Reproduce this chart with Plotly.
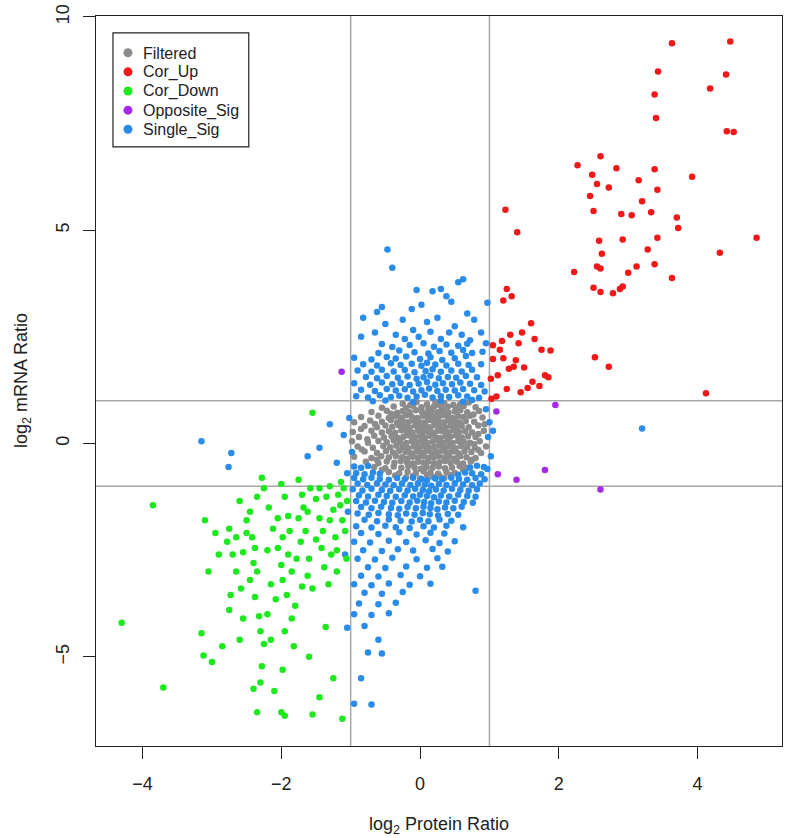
import plotly.graph_objects as go

# ---------------- data (log2 protein ratio, log2 mRNA ratio) ----------------
filtered_pts = [
    (-0.25,0.93),(-0.05,0.97),(0.1,0.92),(0.22,0.98),(0.35,0.94),(0.48,0.9),(0.7,0.96),
    (-0.55,0.84),(-0.38,0.87),(-0.2,0.83),(-0.1,0.88),(0.02,0.85),(0.12,0.82),(0.2,0.87),(0.31,0.84),(0.4,0.86),(0.52,0.83),(0.63,0.88),(0.8,0.85),
    (-0.7,0.74),(-0.48,0.77),(-0.33,0.72),(-0.25,0.76),(-0.15,0.73),(-0.06,0.78),(0.03,0.74),(0.1,0.71),(0.17,0.76),(0.25,0.73),(0.33,0.77),(0.41,0.72),(0.5,0.75),(0.58,0.78),(0.68,0.73),(0.85,0.76),
    (-0.85,0.62),(-0.6,0.65),(-0.45,0.6),(-0.36,0.64),(-0.28,0.61),(-0.2,0.66),(-0.12,0.63),(-0.04,0.6),(0.04,0.65),(0.11,0.62),(0.18,0.64),(0.26,0.61),(0.33,0.66),(0.4,0.63),(0.47,0.6),(0.55,0.64),(0.63,0.62),(0.72,0.65),(0.9,0.61),
    (-0.95,0.5),(-0.72,0.54),(-0.55,0.51),(-0.42,0.55),(-0.33,0.49),(-0.25,0.53),(-0.17,0.5),(-0.09,0.54),(-0.02,0.52),(0.06,0.49),(0.13,0.55),(0.2,0.51),(0.27,0.53),(0.35,0.5),(0.42,0.54),(0.5,0.52),(0.57,0.49),(0.66,0.53),(0.78,0.51),
    (-0.8,0.41),(-0.62,0.38),(-0.5,0.42),(-0.4,0.39),(-0.31,0.43),(-0.23,0.4),(-0.15,0.37),(-0.07,0.42),(0.01,0.39),(0.08,0.41),(0.15,0.38),(0.22,0.43),(0.3,0.4),(0.37,0.37),(0.44,0.42),(0.52,0.39),(0.6,0.41),(0.7,0.38),(0.84,0.42),
    (-0.97,0.27),(-0.7,0.3),(-0.55,0.26),(-0.45,0.29),(-0.36,0.25),(-0.27,0.31),(-0.19,0.28),(-0.11,0.26),(-0.03,0.3),(0.04,0.27),(0.11,0.29),(0.19,0.25),(0.26,0.3),(0.33,0.28),(0.41,0.26),(0.48,0.31),(0.56,0.27),(0.65,0.29),(0.75,0.26),(0.92,0.3),
    (-0.88,0.15),(-0.66,0.18),(-0.52,0.14),(-0.41,0.17),(-0.32,0.13),(-0.24,0.16),(-0.16,0.19),(-0.08,0.15),(0.0,0.17),(0.07,0.14),(0.14,0.18),(0.22,0.15),(0.29,0.13),(0.37,0.17),(0.44,0.16),(0.52,0.19),(0.6,0.14),(0.69,0.17),(0.8,0.15),
    (-0.98,0.05),(-0.75,0.02),(-0.6,0.06),(-0.48,0.03),(-0.38,0.07),(-0.29,0.04),(-0.2,0.01),(-0.12,0.05),(-0.04,0.03),(0.03,0.06),(0.1,0.02),(0.18,0.04),(0.25,0.07),(0.32,0.03),(0.4,0.05),(0.47,0.01),(0.55,0.06),(0.63,0.04),(0.72,0.02),(0.86,0.05),
    (-0.9,-0.07),(-0.68,-0.1),(-0.53,-0.06),(-0.43,-0.09),(-0.34,-0.05),(-0.25,-0.08),(-0.17,-0.11),(-0.09,-0.07),(-0.01,-0.09),(0.06,-0.06),(0.13,-0.1),(0.21,-0.08),(0.28,-0.05),(0.36,-0.09),(0.43,-0.07),(0.51,-0.11),(0.59,-0.06),(0.68,-0.08),(0.79,-0.1),(0.95,-0.07),
    (-0.8,-0.19),(-0.62,-0.22),(-0.49,-0.18),(-0.39,-0.21),(-0.3,-0.17),(-0.21,-0.2),(-0.13,-0.23),(-0.05,-0.19),(0.02,-0.21),(0.09,-0.18),(0.17,-0.22),(0.24,-0.2),(0.32,-0.17),(0.39,-0.21),(0.47,-0.19),(0.55,-0.23),(0.64,-0.18),(0.74,-0.2),(0.88,-0.22),
    (-0.95,-0.31),(-0.7,-0.34),(-0.56,-0.3),(-0.45,-0.33),(-0.35,-0.29),(-0.26,-0.32),(-0.18,-0.35),(-0.1,-0.31),(-0.02,-0.33),(0.05,-0.3),(0.12,-0.34),(0.2,-0.32),(0.27,-0.29),(0.35,-0.33),(0.42,-0.31),(0.5,-0.35),(0.58,-0.3),(0.67,-0.32),(0.8,-0.34),
    (-0.78,-0.43),(-0.6,-0.46),(-0.48,-0.42),(-0.37,-0.45),(-0.28,-0.41),(-0.19,-0.44),(-0.11,-0.47),(-0.03,-0.43),(0.05,-0.45),(0.12,-0.42),(0.2,-0.46),(0.28,-0.44),(0.36,-0.41),(0.44,-0.45),(0.53,-0.43),(0.62,-0.47),(0.73,-0.42),
    (-0.66,-0.55),(-0.5,-0.58),(-0.38,-0.54),(-0.27,-0.57),(-0.17,-0.53),(-0.08,-0.56),(0.01,-0.59),(0.09,-0.55),(0.18,-0.57),(0.27,-0.54),(0.36,-0.58),(0.46,-0.56),(0.57,-0.53),(0.68,-0.57),
    (-0.45,-0.67),(-0.3,-0.7),(-0.18,-0.66),(-0.06,-0.69),(0.05,-0.65),(0.15,-0.68),(0.26,-0.71),(0.38,-0.67),(0.5,-0.69),
    (-0.2,-0.79),(0.0,-0.82),(0.18,-0.78),(0.35,-0.81),
    (-0.14,0.9),(0.28,0.9),(0.58,0.92),(-0.42,0.7),(0.77,0.68),(-0.65,0.46),(0.93,0.45),(-0.85,0.34),(0.84,0.22),
    (-0.76,0.1),(0.78,-0.02),(-0.84,-0.14),(0.84,-0.15),(-0.62,-0.38),(0.75,-0.38),(-0.55,-0.62),(0.62,-0.62),
    (-0.36,-0.75),(-0.1,-0.76),(0.1,-0.74),(0.28,-0.76),(0.44,-0.74),
]

cor_up_pts = [
    (3.63,9.38),(4.47,9.42),(3.43,8.72),(4.41,8.65),(4.18,8.32),(3.38,8.18),(3.40,7.63),(4.42,7.32),(4.52,7.30),
    (2.27,6.52),(2.6,6.73),(2.83,6.45),(3.38,6.43),(3.92,6.25),(3.15,6.17),(2.48,6.3),(2.55,6.08),(2.72,6.0),(3.42,5.95),
    (2.45,5.8),(3.2,5.68),(3.05,5.35),(3.33,5.42),(3.7,5.3),(3.72,5.05),(2.5,5.45),(2.9,5.38),
    (4.85,4.82),(3.42,4.82),(2.92,4.78),(2.58,4.75),(3.28,4.55),(4.32,4.47),(2.62,4.45),(3.63,3.88),(3.12,4.15),
    (2.55,4.15),(2.6,4.1),(3.38,4.2),(2.22,4.02),(3.0,4.0),(2.78,3.52),(2.88,3.62),(2.6,3.55),(2.5,3.65),(2.92,3.68),
    (2.52,2.02),(2.72,1.8),(4.12,1.18),
    (1.23,5.48),(1.4,4.95),(1.25,3.62),(1.32,3.45),(1.2,3.35),(1.6,2.82),(1.47,2.6),(1.3,2.55),(1.18,2.4),(1.65,2.45),
    (1.75,2.2),(1.88,2.18),(1.05,2.3),(1.15,2.2),(1.42,2.35),(1.2,2.0),(1.38,1.95),(1.5,1.78),(1.28,1.75),(1.35,1.8),
    (1.12,1.6),(1.05,1.98),(1.02,1.52),(1.62,1.45),(1.8,1.6),(1.85,1.55),(1.72,1.35),(1.55,1.3),(1.25,1.28),(1.1,1.1),
    (1.03,1.05),(1.45,1.2),
]

cor_down_pts = [
    (-4.3,-4.2),(-3.85,-1.45),(-3.7,-5.72),(-3.15,-4.45),(-3.12,-4.97),(-3.0,-5.12),(-2.85,-4.75),(-3.1,-1.8),(-2.95,-2.1),
    (-2.78,-2.3),(-2.75,-2.0),(-2.7,-2.6),(-2.65,-3.0),(-2.73,-3.55),(-2.75,-3.9),(-2.58,-3.4),(-2.55,-2.55),(-2.5,-1.8),
    (-2.45,-1.6),(-2.42,-2.2),(-2.4,-2.8),(-2.35,-3.0),(-2.38,-3.6),(-2.32,-4.05),(-2.3,-4.4),(-2.25,-4.7),(-2.28,-5.22),
    (-2.3,-5.6),(-2.4,-5.75),(-2.35,-6.3),(-2.0,-6.3),(-1.95,-6.38),(-2.1,-5.8),(-2.15,-4.6),(-2.2,-4.0),(-2.15,-3.3),
    (-2.2,-2.5),(-2.12,-2.0),(-2.18,-1.5),(-2.25,-1.05),(-2.28,-0.8),(-2.0,-0.95),(-1.95,-1.25),(-1.9,-1.7),(-2.05,-1.75),
    (-1.98,-2.2),(-1.9,-2.6),(-1.85,-3.0),(-1.98,-3.2),(-1.92,-3.55),(-1.8,-3.8),(-1.85,-4.1),(-1.95,-4.4),(-1.82,-4.75),
    (-1.98,-5.3),(-1.6,-5.0),(-1.55,-6.35),(-1.75,-0.85),(-1.7,-1.2),(-1.68,-1.5),(-1.72,-2.3),(-1.65,-2.05),(-1.6,-2.7),
    (-1.62,-3.1),(-1.55,-3.4),(-1.58,-1.05),(-1.5,-1.3),(-1.45,-1.75),(-1.4,-2.05),(-1.42,-2.45),(-1.38,-2.9),(-1.32,-3.3),
    (-1.36,-4.3),(-1.3,-1.0),(-1.25,-1.55),(-1.22,-2.2),(-1.2,-2.5),(-1.18,-1.2),(-1.12,-1.8),(-1.1,-1.05),(-1.08,-2.05),
    (-1.05,-1.35),(-1.14,-0.9),(-1.06,-2.7),(-1.12,-6.45),(-1.25,-5.5),(-1.45,-5.95),(-1.55,0.72),
    (-2.6,-1.35),(-2.65,-2.2),(-2.9,-2.6),(-3.05,-3.0),(-2.5,-2.1),(-2.45,-3.2),(-2.55,-4.1),(-2.6,-4.6),(-2.05,-2.45),
    (-2.0,-2.85),(-2.08,-3.65),(-1.75,-1.75),(-1.78,-2.7),(-1.7,-3.35),(-1.45,-1.05),(-1.5,-2.25),(-1.3,-1.8),(-1.28,-2.6),
    (-1.2,-3.0),(-1.35,-1.25),(-1.15,-1.45),(-2.35,-1.25),(-2.38,-2.45),(-1.88,-2.05),(-1.62,-1.6),
]

opposite_pts = [
    (-1.13,1.68),(1.1,0.75),(1.12,-0.72),(1.39,-0.85),(1.95,0.9),(1.8,-0.62),(2.6,-1.08),
]

single_pts = [
    (-0.47,4.55),(-0.4,4.12),(0.62,3.85),(0.55,3.78),(0.3,3.62),(0.18,3.57),(-0.05,3.6),(0.97,3.3),(0.38,3.45),(-0.55,3.2),
    (-0.62,3.08),(-0.12,3.15),(0.02,3.25),(0.45,3.32),(0.68,3.05),(-0.82,2.95),(-0.25,2.9),(-0.5,2.8),(0.1,2.85),(0.25,2.95),
    (0.5,2.75),(0.78,2.9),(0.88,2.6),(0.6,2.55),(0.42,2.6),(0.15,2.62),(-0.1,2.66),(-0.35,2.55),(-0.65,2.6),(-0.85,2.5),
    (0.95,2.35),(0.72,2.42),(0.3,2.45),(-0.02,2.5),(-0.22,2.45),
    (-0.55,2.33),(-0.4,2.26),(-0.15,2.31),(0.05,2.35),(0.2,2.27),(0.38,2.32),(0.55,2.29),(0.68,2.34),
    (-0.6,2.12),(-0.3,2.18),(-0.08,2.14),(0.12,2.11),(0.28,2.17),(0.45,2.13),(0.62,2.19),(0.75,2.12),(0.9,2.15),
    (-0.95,2.01),(-0.7,1.97),(-0.48,2.03),(-0.35,1.99),(-0.2,2.04),(0.0,1.98),(0.15,2.02),(0.32,1.96),(0.5,2.0),(0.66,2.05),
    (-0.82,1.86),(-0.62,1.83),(-0.42,1.88),(-0.28,1.84),(-0.12,1.87),(0.02,1.82),(0.1,1.89),(0.22,1.85),(0.38,1.83),(0.55,1.87),(0.7,1.84),(0.88,1.86),
    (-0.9,1.71),(-0.7,1.68),(-0.55,1.73),(-0.38,1.69),(-0.22,1.72),(-0.08,1.67),(0.08,1.7),(0.18,1.74),(0.3,1.68),(0.45,1.71),(0.6,1.69),(0.75,1.73),
    (-0.78,1.56),(-0.62,1.53),(-0.48,1.58),(-0.32,1.54),(-0.18,1.57),(-0.05,1.52),(0.05,1.55),(0.15,1.59),(0.27,1.53),(0.4,1.56),(0.52,1.54),(0.66,1.58),(0.82,1.55),
    (-0.95,1.41),(-0.72,1.38),(-0.55,1.43),(-0.4,1.39),(-0.28,1.42),(-0.15,1.37),(-0.02,1.4),(0.1,1.44),(0.22,1.38),(0.33,1.41),(0.46,1.39),(0.58,1.43),(0.72,1.4),(0.88,1.37),
    (-0.85,1.26),(-0.65,1.23),(-0.48,1.28),(-0.35,1.24),(-0.22,1.27),(-0.1,1.22),(0.02,1.25),(0.13,1.29),(0.25,1.23),(0.37,1.26),(0.5,1.24),(0.62,1.28),(0.78,1.25),(0.93,1.22),
    (-0.92,1.11),(-0.75,1.08),(-0.58,1.13),(-0.42,1.09),(-0.3,1.12),(-0.18,1.07),(-0.05,1.1),(0.07,1.14),(0.18,1.08),(0.3,1.11),(0.42,1.09),(0.55,1.13),(0.68,1.1),(0.85,1.07),
    (-0.68,0.99),(-0.5,1.01),(-0.1,0.97),(0.3,1.0),(0.62,0.98),(0.75,1.02),
    (-1.02,0.6),(-1.1,0.2),(-0.98,-0.2),(-1.2,-0.45),(-1.05,-0.7),(-1.3,0.45),(-1.45,-0.1),(-1.62,-0.3),(0.95,0.8),(1.0,0.5),
    (0.98,0.15),(1.02,-0.3),(0.97,-0.6),(1.05,0.3),(-3.15,0.05),(-2.72,-0.22),(-2.76,-0.55),(3.2,0.35),
    (-0.95,-0.54),(-0.85,-0.57),(-0.75,-0.53),(0.72,-0.56),(0.82,-0.52),(0.92,-0.55),
    (-0.92,-0.69),(-0.8,-0.72),(-0.68,-0.68),(-0.58,-0.71),(0.55,-0.73),(0.65,-0.68),(0.75,-0.7),(0.88,-0.72),
    (-0.95,-0.81),(-0.82,-0.84),(-0.7,-0.8),(-0.58,-0.83),(-0.45,-0.85),(-0.33,-0.81),(-0.22,-0.84),(-0.1,-0.8),(0.02,-0.83),
    (0.1,-0.86),(0.22,-0.82),(0.32,-0.84),(0.45,-0.8),(0.56,-0.83),(0.68,-0.85),(0.8,-0.81),(0.93,-0.84),
    (-0.9,-0.94),(-0.76,-0.97),(-0.62,-0.93),(-0.5,-0.96),(-0.38,-0.98),(-0.26,-0.94),(-0.14,-0.97),(-0.03,-0.93),
    (0.07,-0.96),(0.16,-0.99),(0.27,-0.95),(0.38,-0.97),(0.5,-0.93),(0.62,-0.96),(0.75,-0.98),(0.86,-0.94),
    (-0.97,-1.07),(-0.83,-1.1),(-0.7,-1.06),(-0.55,-1.09),(-0.43,-1.11),(-0.3,-1.07),(-0.18,-1.1),(-0.07,-1.06),
    (0.04,-1.09),(0.13,-1.12),(0.23,-1.08),(0.34,-1.1),(0.46,-1.06),(0.58,-1.09),(0.7,-1.11),(0.82,-1.07),
    (-0.88,-1.21),(-0.75,-1.24),(-0.6,-1.2),(-0.48,-1.23),(-0.35,-1.25),(-0.22,-1.21),(-0.1,-1.24),(0.0,-1.2),
    (0.1,-1.23),(0.2,-1.26),(0.3,-1.22),(0.42,-1.24),(0.55,-1.2),(0.68,-1.23),(0.8,-1.25),
    (-0.92,-1.35),(-0.78,-1.38),(-0.65,-1.34),(-0.52,-1.37),(-0.4,-1.39),(-0.27,-1.35),(-0.15,-1.38),(-0.04,-1.34),
    (0.06,-1.37),(0.16,-1.4),(0.27,-1.36),(0.38,-1.38),(0.5,-1.34),(0.63,-1.37),(0.76,-1.39),
    (-0.85,-1.49),(-0.7,-1.52),(-0.56,-1.48),(-0.42,-1.51),(-0.3,-1.53),(-0.18,-1.49),(-0.06,-1.52),(0.05,-1.48),
    (0.15,-1.51),(0.25,-1.54),(0.36,-1.5),(0.48,-1.52),(0.6,-1.48),
    (-0.9,-1.64),(-0.74,-1.67),(-0.6,-1.63),(-0.45,-1.66),(-0.32,-1.68),(-0.2,-1.64),(-0.08,-1.67),(0.04,-1.63),
    (0.14,-1.66),(0.26,-1.69),(0.4,-1.65),(0.55,-1.67),
    (-0.8,-1.79),(-0.62,-1.82),(-0.45,-1.78),(-0.28,-1.81),(-0.12,-1.83),(0.0,-1.79),(0.12,-1.82),(0.28,-1.78),(0.45,-1.81),
    (-0.92,-1.94),(-0.7,-1.97),(-0.5,-1.93),(-0.35,-1.96),(-0.15,-1.98),(0.05,-1.94),(0.2,-1.97),(0.38,-1.93),(0.62,-1.96),
    (-0.85,-2.1),(-0.6,-2.12),(-0.3,-2.08),(-0.05,-2.13),(0.15,-2.09),(0.35,-2.11),
    (-0.95,-2.3),(-0.72,-2.32),(-0.45,-2.28),(-0.2,-2.31),(0.08,-2.27),(0.28,-2.33),(0.5,-2.29),
    (-0.82,-2.5),(-0.55,-2.52),(-0.32,-2.48),(-0.1,-2.51),(0.18,-2.47),(0.4,-2.53),
    (-0.9,-2.7),(-0.65,-2.72),(-0.4,-2.68),(-0.05,-2.71),(0.25,-2.69),
    (-0.75,-2.9),(-0.5,-2.92),(-0.2,-2.88),(0.1,-2.91),(0.32,-2.89),
    (-0.85,-3.1),(-0.6,-3.12),(-0.28,-3.08),(0.0,-3.11),
    (-0.95,-3.3),(-0.7,-3.32),(-0.45,-3.28),(-0.15,-3.31),(0.15,-3.29),
    (-0.8,-3.5),(-0.55,-3.52),(-0.25,-3.48),(0.8,-3.45),
    (-0.88,-3.75),(-0.6,-3.77),(-0.35,-3.73),
    (-0.95,-4.0),(-0.7,-4.02),(-0.45,-3.98),
    (-1.05,-4.32),(-0.8,-4.28),(-0.6,-4.6),(-0.75,-4.9),(-0.55,-4.92),(-0.85,-5.5),(-0.95,-6.1),(-0.7,-6.12),
    (-1.04,-1.6),(-1.08,-2.6),
]

series_names = ["Filtered", "Cor_Up", "Cor_Down", "Opposite_Sig", "Single_Sig"]
series_colors = ["#8c8c8c", "#f01818", "#1ee81e", "#a628e8", "#2a8ce8"]
series_points = [filtered_pts, cor_up_pts, cor_down_pts, opposite_pts, single_pts]
draw_order = [0, 4, 1, 2, 3]

x_ticks = [-4, -2, 0, 2, 4]
y_ticks = [-5, 0, 5, 10]
threshold_lines = [-1, 1]

FONT = "Liberation Sans, Arial, Helvetica, sans-serif"
INK = "#222222"

# ---- layout geometry (page body margin removed by post_script) ----
FIG_W, FIG_H = 787, 838
M_L, M_R, M_T, M_B = 96, 4, 10, 92
PW = FIG_W - M_L - M_R
PH = FIG_H - M_T - M_B


def px_x(sx):
    return (sx - M_L) / PW


def px_y(sy):
    return 1 - (sy - M_T) / PH


fig = go.Figure()
for i in draw_order:
    pts = series_points[i]
    fig.add_trace(go.Scatter(
        x=[p[0] for p in pts], y=[p[1] for p in pts], mode="markers",
        marker=dict(size=6.5, color=series_colors[i], line=dict(width=0)),
        name=series_names[i], showlegend=False, hoverinfo="x+y",
    ))

for v in threshold_lines:
    fig.add_shape(type="line", xref="x", yref="paper", x0=v, x1=v, y0=0, y1=1,
                  line=dict(color="#a8a8a8", width=1.5), layer="below")
    fig.add_shape(type="line", xref="paper", yref="y", x0=0, x1=1, y0=v, y1=v,
                  line=dict(color="#a8a8a8", width=1.5), layer="below")

# ---- legend box drawn like R's legend() ----
fig.add_shape(type="rect", xref="paper", yref="paper",
              x0=px_x(113), x1=px_x(249), y0=px_y(142), y1=px_y(27),
              line=dict(color=INK, width=1.2), fillcolor="white", layer="above")
for k, (name, col) in enumerate(zip(series_names, series_colors)):
    row_y = 47 + k * 19.3
    fig.add_shape(type="circle", xref="paper", yref="paper",
                  xsizemode="pixel", ysizemode="pixel",
                  xanchor=px_x(128), yanchor=px_y(row_y),
                  x0=-4.5, x1=4.5, y0=-4.5, y1=4.5,
                  fillcolor=col, line=dict(width=0), layer="above")
    fig.add_annotation(text=name, xref="paper", yref="paper",
                       x=px_x(141), y=px_y(row_y + 0.5), xanchor="left", yanchor="middle",
                       showarrow=False, font=dict(family=FONT, size=16, color=INK))

axis_common = dict(
    showgrid=False, zeroline=False, showline=True, mirror=True,
    linecolor=INK, linewidth=1.2, ticks="outside", ticklen=12,
    tickcolor=INK, tickwidth=1.2, ticklabeloverflow="allow",
    tickfont=dict(family=FONT, size=18, color=INK),
)
fig.update_xaxes(range=[-4.67, 5.216], tickvals=x_ticks, ticklabelstandoff=9,
                 ticktext=[("\u2212" + str(-t)) if t < 0 else str(t) for t in x_ticks],
                 **axis_common)
fig.update_yaxes(range=[-7.09, 10.02], tickvals=y_ticks, tickangle=-90, ticklabelstandoff=7,
                 ticktext=[("\u2212" + str(-t)) if t < 0 else str(t) for t in y_ticks],
                 **axis_common)

fig.add_annotation(text="log<sub>2</sub> Protein Ratio", xref="paper", yref="paper",
                   x=px_x(440), y=px_y(826), xanchor="center", yanchor="middle", showarrow=False,
                   font=dict(family=FONT, size=18, color=INK))
fig.add_annotation(text="log<sub>2</sub> mRNA Ratio", xref="paper", yref="paper",
                   x=px_x(22), y=px_y(378), xanchor="center", yanchor="middle", textangle=-90,
                   showarrow=False, font=dict(family=FONT, size=18, color=INK))

fig.update_layout(
    width=FIG_W, height=FIG_H,
    margin=dict(l=M_L, r=M_R, t=M_T, b=M_B),
    paper_bgcolor="white", plot_bgcolor="white",
    font=dict(family=FONT, size=16, color=INK),
    showlegend=False,
)

fig.write_html("out.html",
               config={"displayModeBar": False},
               post_script="document.body.style.margin='0';document.body.style.overflow='hidden';")
